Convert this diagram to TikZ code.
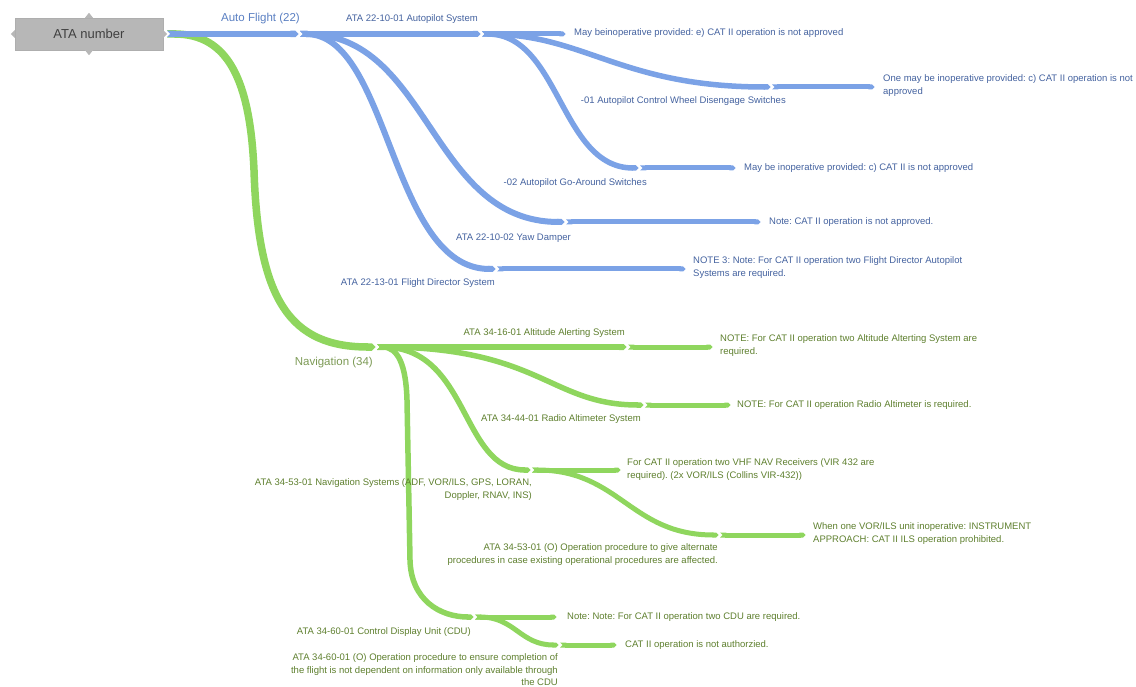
\documentclass[tikz,border=0pt]{standalone}
\usepackage{fontspec}
\setmainfont{Liberation Sans}
\frenchspacing
\usetikzlibrary{arrows.meta}
\definecolor{bl}{HTML}{7BA2E6}
\definecolor{gr}{HTML}{8FD65E}
\definecolor{blt}{HTML}{44629F}
\definecolor{grt}{HTML}{5E7F2E}
\definecolor{blt1}{HTML}{5A7FC2}
\definecolor{grt1}{HTML}{7C9A55}
\definecolor{rootfill}{HTML}{B7B7B7}
\tikzset{
  brb/.style={draw=bl, line width=#1, {Triangle Cap[reversed]}-{Triangle Cap}, shorten >=1.5pt},
  brg/.style={draw=gr, line width=#1, {Triangle Cap[reversed]}-{Triangle Cap}, shorten >=1.5pt},
  lab/.style={inner sep=0pt, font=\fontsize{9.5}{13}\selectfont},
  lw/.style={lab, anchor=west, align=left},
  le/.style={lab, anchor=east, align=right},
}
\begin{document}
\begin{tikzpicture}[x=1pt,y=-1pt]
\useasboundingbox (0,0) rectangle (1136,687);
% root
\node[fill=rootfill, draw=rootfill!95!black, minimum width=148pt, minimum height=32pt, inner sep=0pt,
      text=black!75, font=\fontsize{13}{15}\selectfont] (root) at (89,34) {ATA number};
\fill[rootfill] (root.north) ++(-4pt,0) -- ++(4pt,5pt) -- ++(4pt,-5pt) -- cycle;
\fill[rootfill] (root.south) ++(-4pt,0) -- ++(4pt,-5pt) -- ++(4pt,5pt) -- cycle;
\fill[rootfill] (root.east) ++(0,4pt) -- ++(4pt,-4pt) -- ++(-4pt,-4pt) -- cycle;
\fill[rootfill] (root.west) ++(0,4pt) -- ++(-4pt,-4pt) -- ++(4pt,-4pt) -- cycle;
\coordinate (rs) at (167,34);
% junctions
\coordinate (af) at (300,34);
\coordinate (aps) at (482,34);
\coordinate (apl) at (567,34);
\coordinate (cw) at (772,87);
\coordinate (cwl) at (876,87);
\coordinate (ga) at (640,168);
\coordinate (gal) at (737,168);
\coordinate (yd) at (566,222);
\coordinate (ydl) at (762,222);
\coordinate (fd) at (497,269);
\coordinate (fdl) at (687,269);
\coordinate (nav) at (377,347);
\coordinate (alt) at (628,347);
\coordinate (altl) at (714,347);
\coordinate (ra) at (645,405);
\coordinate (ral) at (732,405);
\coordinate (ns) at (532,470);
\coordinate (nsl) at (622,470);
\coordinate (ni) at (720,535);
\coordinate (nil) at (807,535);
\coordinate (cdu) at (475,617);
\coordinate (cdul) at (558,617);
\coordinate (cdp) at (560,645);
\coordinate (cdpl) at (618,645);
% green branches (drawn first)
\draw[brg=7.5pt] (rs) .. controls (228,34) and (250,80) .. (254,170) .. controls (258,300) and (290,347) .. (nav);
\draw[brg=5.5pt] (nav) .. controls (398,347) and (406,365) .. (407,400) -- (410,560) .. controls (411,600) and (440,617) .. (cdu);
\draw[brg=5.5pt] (nav) .. controls (470,347) and (460,470) .. (ns);
\draw[brg=5.5pt] (nav) .. controls (540,347) and (550,405) .. (ra);
\draw[brg=6pt] (nav) -- (alt);
\draw[brg=5pt] (alt) -- (altl);
\draw[brg=5pt] (ra) -- (ral);
\draw[brg=5pt] (ns) -- (nsl);
\draw[brg=5pt] (ns) .. controls (620,470) and (630,535) .. (ni);
\draw[brg=5pt] (ni) -- (nil);
\draw[brg=5pt] (cdu) -- (cdul);
\draw[brg=5pt] (cdu) .. controls (515,617) and (520,645) .. (cdp);
\draw[brg=5pt] (cdp) -- (cdpl);
% blue branches
\draw[brb=6.5pt] (rs) -- (af);
\draw[brb=6pt] (af) .. controls (390,34) and (390,269) .. (fd);
\draw[brb=6pt] (af) .. controls (430,34) and (430,222) .. (yd);
\draw[brb=6pt] (af) -- (aps);
\draw[brb=5.5pt] (aps) .. controls (560,34) and (560,168) .. (ga);
\draw[brb=5.5pt] (aps) .. controls (585,34) and (620,87) .. (cw);
\draw[brb=5pt] (aps) -- (apl);
\draw[brb=5pt] (cw) -- (cwl);
\draw[brb=5pt] (ga) -- (gal);
\draw[brb=5pt] (yd) -- (ydl);
\draw[brb=5pt] (fd) -- (fdl);
% blue labels
\node[le, text=blt1, font=\fontsize{11.5}{13}\selectfont] (tAF) at (300,19) {Auto Flight (22)};
\node[le, text=blt] (tAP) at (478,19) {ATA 22-10-01 Autopilot System};
\node[lw, text=blt] (tAPl) at (574,33) {May beinoperative provided: e) CAT II operation is not approved};
\node[le, text=blt] (tCW) at (786,101) {-01 Autopilot Control Wheel Disengage Switches};
\node[lw, text=blt] (tCWl) at (883,86) {One may be inoperative provided: c) CAT II operation is not\\approved};
\node[le, text=blt] (tGA) at (647,183) {-02 Autopilot Go-Around Switches};
\node[lw, text=blt] (tGAl) at (744,168) {May be inoperative provided: c) CAT II is not approved};
\node[le, text=blt] (tYD) at (571,238) {ATA 22-10-02 Yaw Damper};
\node[lw, text=blt] (tYDl) at (769,222) {Note: CAT II operation is not approved.};
\node[le, text=blt] (tFD) at (495,283) {ATA 22-13-01 Flight Director System};
\node[lw, text=blt] (tFDl) at (693,268) {NOTE 3: Note: For CAT II operation two Flight Director Autopilot\\Systems are required.};
% green labels
\node[le, text=grt1, font=\fontsize{11.5}{13}\selectfont] (tNAV) at (373,363) {Navigation (34)};
\node[le, text=grt] (tALT) at (625,333) {ATA 34-16-01 Altitude Alerting System};
\node[lw, text=grt] (tALTl) at (720,346) {NOTE: For CAT II operation two Altitude Alterting System are\\required.};
\node[le, text=grt] (tRA) at (641,419) {ATA 34-44-01 Radio Altimeter System};
\node[lw, text=grt] (tRAl) at (737,405) {NOTE: For CAT II operation Radio Altimeter is required.};
\node[le, text=grt] (tNS) at (532,490) {ATA 34-53-01 Navigation Systems (ADF, VOR/ILS, GPS, LORAN,\\Doppler, RNAV, INS)};
\node[lw, text=grt] (tNSl) at (627,470) {For CAT II operation two VHF NAV Receivers (VIR 432 are\\required). (2x VOR/ILS (Collins VIR-432))};
\node[le, text=grt] (tNI) at (718,555) {ATA 34-53-01 (O) Operation procedure to give alternate\\procedures in case existing operational procedures are affected.};
\node[lw, text=grt] (tNIl) at (813,534) {When one VOR/ILS unit inoperative: INSTRUMENT\\APPROACH: CAT II ILS operation prohibited.};
\node[le, text=grt] (tCDU) at (471,632) {ATA 34-60-01 Control Display Unit (CDU)};
\node[lw, text=grt] (tCDUl) at (567,617) {Note: Note: For CAT II operation two CDU are required.};
\node[le, text=grt, font=\fontsize{9.5}{12.5}\selectfont] (tCDP) at (558,670) {ATA 34-60-01 (O) Operation procedure to ensure completion of\\the flight is not dependent on information only available through\\the CDU};
\node[lw, text=grt] (tCDPl) at (625,645) {CAT II operation is not authorzied.};
\end{tikzpicture}
\end{document}
